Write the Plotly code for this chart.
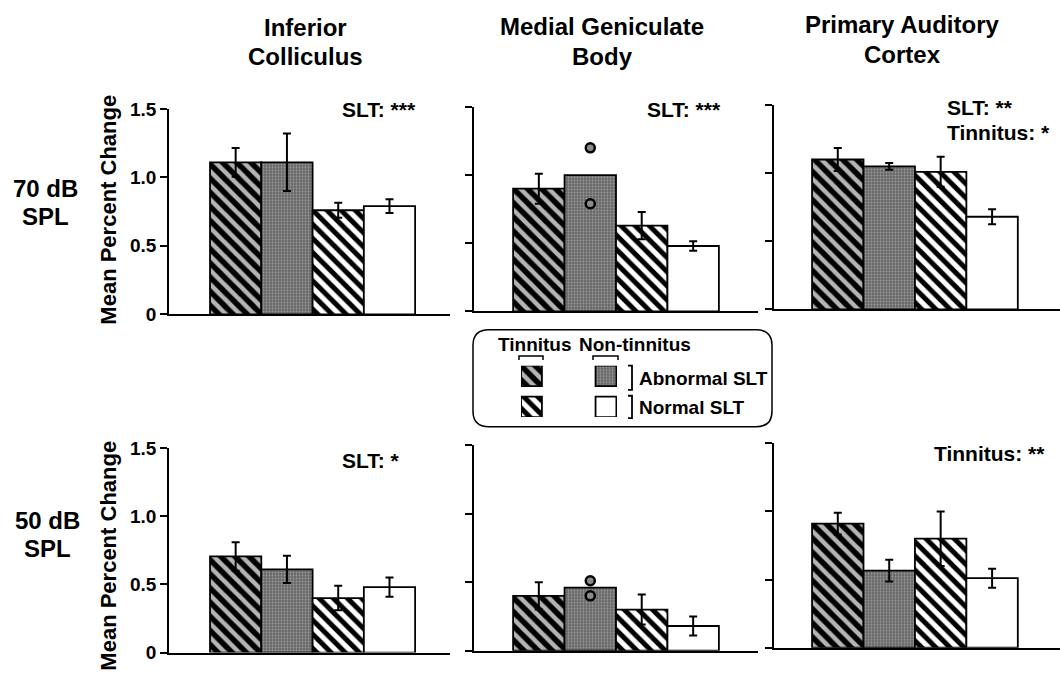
import plotly.graph_objects as go

W, H = 1060, 682

# ---------------- data ----------------
groups = ["Tinnitus, abnormal SLT", "Non-tinnitus, abnormal SLT",
          "Tinnitus, normal SLT", "Non-tinnitus, normal SLT"]
group_pos = [0, 1, 2, 3]
regions = [["Inferior", "Colliculus"], ["Medial Geniculate", "Body"],
           ["Primary Auditory", "Cortex"]]
levels = [["70 dB", "SPL"], ["50 dB", "SPL"]]

ic_70 = [1.11, 1.11, 0.76, 0.79]
ic_70_err = [0.105, 0.21, 0.055, 0.05]
mgb_70 = [0.90, 1.00, 0.63, 0.48]
mgb_70_err = [0.11, None, 0.10, 0.035]
mgb_70_points = [1.20, 0.79]
ac_70 = [1.10, 1.05, 1.01, 0.68]
ac_70_err = [0.085, 0.025, 0.11, 0.055]

ic_50 = [0.705, 0.61, 0.40, 0.48]
ic_50_err = [0.105, 0.10, 0.09, 0.07]
mgb_50 = [0.40, 0.46, 0.30, 0.18]
mgb_50_err = [0.10, None, 0.11, 0.07]
mgb_50_points = [0.51, 0.40]
ac_50 = [0.91, 0.565, 0.80, 0.51]
ac_50_err = [0.08, 0.08, 0.20, 0.07]

stats = [["SLT: ***"], ["SLT: ***"], ["SLT: **", "Tinnitus: *"],
         ["SLT: *"], [], ["Tinnitus: **"]]

y_tickvals = [0, 0.5, 1.0, 1.5]
y_ticktext = ["0", "0.5", "1.0", "1.5"]

# --------------- styling ---------------
FONT = "Liberation Sans, Arial, sans-serif"
styles = [
    dict(color="#b0b0b0", pattern=dict(shape="\\", fgcolor="#000000", bgcolor="#b4b4b4",
                                       size=10, solidity=0.55, fgopacity=1)),
    dict(color="#6c6c6c", pattern=dict(shape=".", fgcolor="#9c9c9c", bgcolor="#686868",
                                       size=3, solidity=0.3, fgopacity=1)),
    dict(color="white", pattern=dict(shape="\\", fgcolor="#000000", bgcolor="white",
                                     size=10, solidity=0.5, fgopacity=1)),
    dict(color="white"),
]


def X(p):
    return p / W


def Y(p):
    return 1 - p / H


panels = [
    (ic_70, ic_70_err, None), (mgb_70, mgb_70_err, mgb_70_points), (ac_70, ac_70_err, None),
    (ic_50, ic_50_err, None), (mgb_50, mgb_50_err, mgb_50_points), (ac_50, ac_50_err, None),
]
col_dom = [(169, 450), (474, 758), (774, 1060)]
col_rng = [(-1.30, 4.18), (-1.26, 4.26), (-1.24, 4.32)]
# pixel rows of y=0 and y=1.5 for each panel
row_px = [(314, 102), (311, 100), (309, 98), (663, 452), (661, 449), (658, 447)]

fig = go.Figure()
layout = dict(width=W, height=H, margin=dict(l=0, r=0, t=0, b=0),
              paper_bgcolor="white", plot_bgcolor="white", showlegend=False,
              barmode="overlay", font=dict(family=FONT, color="black"))

for k, (means, errs, pts) in enumerate(panels):
    r, c = divmod(k, 3)
    n = "" if k == 0 else str(k + 1)
    xa, ya = "x" + n, "y" + n
    for g in range(4):
        e = errs[g]
        fig.add_trace(go.Bar(
            x=[group_pos[g]], y=[means[g]], width=1, name=groups[g],
            marker=dict(line=dict(color="black", width=1.8), **styles[g]),
            error_y=dict(type="data", array=[e if e is not None else 0],
                         visible=e is not None, color="black", thickness=2, width=4),
            xaxis=xa, yaxis=ya, hoverinfo="skip"))
    if pts:
        fig.add_trace(go.Scatter(
            x=[group_pos[1]] * len(pts), y=pts, mode="markers",
            marker=dict(size=9, color="#8c8c8c", line=dict(color="black", width=2.5)),
            xaxis=xa, yaxis=ya, hoverinfo="skip"))
    y0, y1 = row_px[k]
    layout["xaxis" + n] = dict(domain=[X(col_dom[c][0]), X(col_dom[c][1])],
                               range=list(col_rng[c]), anchor=ya, showline=True,
                               linecolor="black", linewidth=1.8, showticklabels=False,
                               ticks="", showgrid=False, zeroline=False, fixedrange=True)
    layout["yaxis" + n] = dict(domain=[Y(y0), Y(y1)], range=[0, 1.5], anchor=xa,
                               showline=True, linecolor="black", linewidth=1.8,
                               tickvals=y_tickvals, ticktext=y_ticktext, ticks="outside",
                               ticklen=7, tickwidth=1.8, tickcolor="black",
                               showticklabels=(c == 0),
                               tickfont=dict(size=19, family=FONT, weight="bold"),
                               showgrid=False, zeroline=False, fixedrange=True)

# ---- legend swatches on their own small axes ----
leg_cols = [0, 1]          # tinnitus, non-tinnitus
leg_rows = [1, 0]          # abnormal SLT row (top), normal SLT row (bottom)
leg_height = 0.66
leg_styles = [[styles[0], styles[2]], [styles[1], styles[3]]]
for ci in range(2):
    for ri in range(2):
        fig.add_trace(go.Bar(
            x=[leg_cols[ci]], y=[leg_height], base=[leg_rows[ri]], width=0.28,
            marker=dict(line=dict(color="black", width=1.8), **leg_styles[ci][ri]),
            xaxis="x7", yaxis="y7", hoverinfo="skip"))
layout["xaxis7"] = dict(domain=[X(521), X(617)], range=[-0.141, 1.148], anchor="y7",
                        visible=False, fixedrange=True)
layout["yaxis7"] = dict(domain=[Y(420), Y(367)], range=[0, 1.66], anchor="x7",
                        visible=False, fixedrange=True)

fig.update_layout(**layout)

ann = []


def txt(x, y, s, size, xanchor="center", angle=0):
    ann.append(dict(x=X(x), y=Y(y), xref="paper", yref="paper", text=s, showarrow=False,
                    xanchor=xanchor, yanchor="middle", textangle=angle,
                    font=dict(size=size, family=FONT, weight="bold", color="black")))


# column titles
title_x = [305, 602, 902]
title_y = [[18, 48], [17, 48], [15, 46]]
for i, lines in enumerate(regions):
    for j, s in enumerate(lines):
        txt(title_x[i], title_y[i][j], s, 24)

# row labels
lvl_pos = [[(45, 184), (45, 213)], [(47, 527), (47, 556)]]
for i, lines in enumerate(levels):
    for j, s in enumerate(lines):
        txt(lvl_pos[i][j][0], lvl_pos[i][j][1], s, 24)

# y titles
txt(109, 206, "Mean Percent Change", 22, angle=-90)
txt(109, 563, "Mean Percent Change", 22, angle=-90)

# statistics
stat_pos = [(340, 103), (645, 103), (945, 101), (340, 465), (0, 0), (932, 458)]
for k, lines in enumerate(stats):
    for j, s in enumerate(lines):
        txt(stat_pos[k][0], stat_pos[k][1] + 25 * j, s, 21, xanchor="left")

# legend texts
txt(535, 345, "Tinnitus", 19)
txt(635, 345, "Non-tinnitus", 19)
txt(637, 380, "Abnormal SLT", 19, xanchor="left")
txt(637, 410, "Normal SLT", 19, xanchor="left")
fig.update_layout(annotations=ann)


# legend frame and brackets
def path_px(pts):
    return "M " + " L ".join(f"{X(a):.5f},{Y(b):.5f}" for a, b in pts)


shapes = []
bx0, by0, bx1, by1, rr = 473, 330, 772, 430, 16
box = (f"M {X(bx0 + rr)},{Y(by0)} L {X(bx1 - rr)},{Y(by0)} "
       f"Q {X(bx1)},{Y(by0)} {X(bx1)},{Y(by0 + rr)} L {X(bx1)},{Y(by1 - rr)} "
       f"Q {X(bx1)},{Y(by1)} {X(bx1 - rr)},{Y(by1)} L {X(bx0 + rr)},{Y(by1)} "
       f"Q {X(bx0)},{Y(by1)} {X(bx0)},{Y(by1 - rr)} L {X(bx0)},{Y(by0 + rr)} "
       f"Q {X(bx0)},{Y(by0)} {X(bx0 + rr)},{Y(by0)} Z")
shapes.append(dict(type="path", path=box, xref="paper", yref="paper",
                   line=dict(color="black", width=1.5)))
for a, b in [(519, 543), (593, 618)]:
    shapes.append(dict(type="path", path=path_px([(a, 361), (a, 357), (b, 357), (b, 361)]),
                       xref="paper", yref="paper", line=dict(color="black", width=1.5)))
for t, b in [(367, 392), (398, 421)]:
    shapes.append(dict(type="path", path=path_px([(628, t), (632, t), (632, b), (628, b)]),
                       xref="paper", yref="paper", line=dict(color="black", width=1.8)))
fig.update_layout(shapes=shapes)

fig.write_html("out.html")
